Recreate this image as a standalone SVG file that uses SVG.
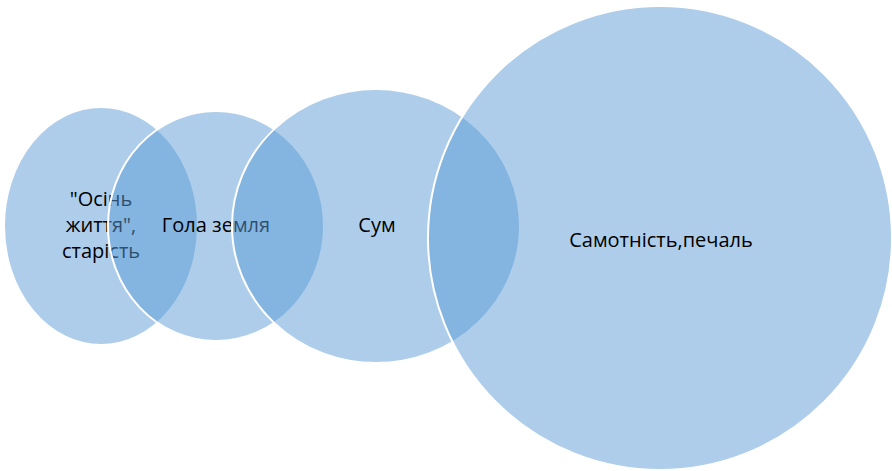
<svg xmlns="http://www.w3.org/2000/svg" width="892" height="471" viewBox="0 0 892 471">
<style>
.c{fill:#5b9bd5;fill-opacity:0.5;stroke:#ffffff;stroke-width:2}
.t{font-family:"Open Sans","Noto Sans","DejaVu Sans",sans-serif;font-size:20px;fill:#000000;text-anchor:middle}
</style>
<rect width="892" height="471" fill="#ffffff"/>
<g id="node1">
<ellipse class="c" cx="101" cy="226" rx="97" ry="119"/>
<text class="t" x="101"><tspan x="101" y="206">"Осінь</tspan><tspan x="101" y="232">життя",</tspan><tspan x="101" y="258">старість</tspan></text>
</g>
<g id="node2">
<ellipse class="c" cx="216" cy="226" rx="108" ry="115"/>
<text class="t" x="216" y="232">Гола земля</text>
</g>
<g id="node3">
<ellipse class="c" cx="376" cy="226" rx="144" ry="137"/>
<text class="t" x="377" y="232">Сум</text>
</g>
<g id="node4">
<ellipse class="c" cx="660" cy="238" rx="232" ry="232"/>
<text class="t" x="661" y="247">Самотність,печаль</text>
</g>
<g id="connectors"/>
</svg>
